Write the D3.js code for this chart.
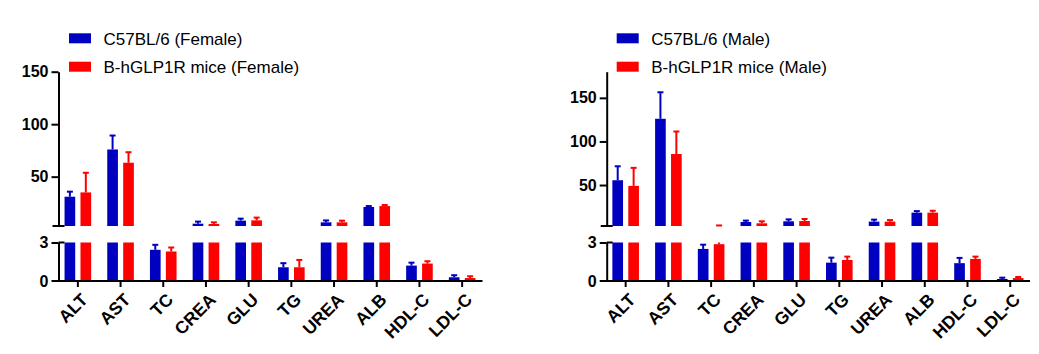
<!DOCTYPE html>
<html><head><meta charset="utf-8">
<script src="https://cdn.jsdelivr.net/npm/d3@7"></script>
<style>body{margin:0;background:#fff}svg{display:block}text{font-family:"Liberation Sans",Arial,sans-serif}</style>
</head><body>
<svg id="c" width="1039" height="354"></svg>
<script>
const categories = ["ALT","AST","TC","CREA","GLU","TG","UREA","ALB","HDL-C","LDL-C"];

const femaleWTMean = [30.9, 75.9, 2.43, 5.2, 8.1, 1.07, 6.5, 21.1, 1.2, 0.29];
const femaleWTSD   = [4.8, 13.3, 0.39, 2.0, 1.9, 0.32, 1.8, 0.9, 0.23, 0.16];
const femaleTgMean = [35.0, 63.3, 2.30, 4.9, 8.4, 1.07, 6.5, 22.0, 1.36, 0.23];
const femaleTgSD   = [18.7, 10.0, 0.31, 1.6, 2.6, 0.57, 1.6, 1.0, 0.18, 0.14];

const maleWTMean = [55.5, 126.0, 2.50, 7.6, 8.4, 1.43, 8.0, 18.3, 1.39, 0.16];
const maleWTSD   = [16.0, 30.4, 0.33, 1.6, 2.2, 0.39, 2.3, 1.8, 0.41, 0.10];
const maleTgMean = [49.0, 85.6, 2.87, 6.1, 8.7, 1.64, 8.0, 18.3, 1.72, 0.23];
const maleTgSD   = [20.7, 25.8, 0.75, 2.3, 2.3, 0.26, 1.8, 2.2, 0.18, 0.08];

const seriesFemale = ["C57BL/6 (Female)", "B-hGLP1R mice (Female)"];
const seriesMale = ["C57BL/6 (Male)", "B-hGLP1R mice (Male)"];
const colors = ["#0000c0", "#ff0000"];

const upperTicksFemale = [50, 100, 150];
const upperTicksMale = [50, 100, 150];
const lowerTicks = [0, 3];
const breakValue = 3;

const svg = d3.select("#c");

function panel(opt) {
  const g = svg.append("g");
  const ax = opt.axisX;
  const lower = d3.scaleLinear().domain([0, breakValue]).range([281, 242.5]);
  const upper = d3.scaleLinear().domain([breakValue, opt.upperMax]).range([226, 71.7]);
  const x = d3.scaleBand().domain(categories).range(opt.bandRange).padding(0);
  const x1 = d3.scaleBand().domain([0, 1]).range([-13.3, 13.3]).paddingInner(0.33);

  const data = [];
  opt.means.forEach((arr, s) => arr.forEach((m, i) => data.push({cat: categories[i], s, m, top: m + opt.sds[s][i]})));

  const bx = d => x(d.cat) + x.bandwidth() / 2 + x1(d.s);
  const cx = d => bx(d) + x1.bandwidth() / 2;

  g.selectAll(".lb").data(data).join("rect")
    .attr("x", bx).attr("width", x1.bandwidth())
    .attr("y", d => lower(Math.min(d.m, breakValue)))
    .attr("height", d => lower(0) - lower(Math.min(d.m, breakValue)))
    .attr("fill", d => colors[d.s]);
  g.selectAll(".ub").data(data.filter(d => d.m > breakValue)).join("rect")
    .attr("x", bx).attr("width", x1.bandwidth())
    .attr("y", d => upper(d.m))
    .attr("height", d => upper(breakValue) - upper(d.m))
    .attr("fill", d => colors[d.s]);

  const capW = 3;
  data.filter(d => d.m < breakValue).forEach(d => {
    const t = Math.min(d.top, breakValue);
    g.append("line").attr("x1", cx(d)).attr("x2", cx(d))
      .attr("y1", lower(d.m)).attr("y2", lower(t))
      .attr("stroke", colors[d.s]).attr("stroke-width", 2);
    if (d.top <= breakValue) {
      g.append("line").attr("x1", cx(d) - capW).attr("x2", cx(d) + capW)
        .attr("y1", lower(t)).attr("y2", lower(t))
        .attr("stroke", colors[d.s]).attr("stroke-width", 2);
    }
  });
  data.filter(d => d.top > breakValue).forEach(d => {
    const b = Math.max(d.m, breakValue);
    g.append("line").attr("x1", cx(d)).attr("x2", cx(d))
      .attr("y1", upper(b)).attr("y2", upper(d.top))
      .attr("stroke", colors[d.s]).attr("stroke-width", 2);
    g.append("line").attr("x1", cx(d) - capW).attr("x2", cx(d) + capW)
      .attr("y1", upper(d.top)).attr("y2", upper(d.top))
      .attr("stroke", colors[d.s]).attr("stroke-width", 2);
  });

  const ua = g.append("g").attr("transform", `translate(${ax},0)`)
    .call(d3.axisLeft(upper).tickValues(opt.upperTicks).tickFormat(d3.format("d")).tickSize(7).tickSizeOuter(0).tickPadding(3));
  const la = g.append("g").attr("transform", `translate(${ax},0)`)
    .call(d3.axisLeft(lower).tickValues(lowerTicks).tickFormat(d3.format("d")).tickSize(7).tickSizeOuter(0).tickPadding(3));
  [ua, la].forEach(a => {
    a.select(".domain").attr("stroke", "#000").attr("stroke-width", 2);
    a.selectAll(".tick line").attr("stroke", "#000").attr("stroke-width", 2);
    a.selectAll(".tick text").attr("fill", "#000").style("font-size", "16px").style("font-weight", "bold")
      .style("font-family", "'Liberation Sans', Arial, sans-serif");
  });
  la.selectAll(".tick").filter(d => d === 0).select("line").remove();
  g.append("line").attr("x1", ax - 6).attr("x2", ax + 6).attr("y1", upper(breakValue)).attr("y2", upper(breakValue))
    .attr("stroke", "#000").attr("stroke-width", 2);
  g.append("line").attr("x1", ax).attr("x2", ax + 6).attr("y1", lower(breakValue)).attr("y2", lower(breakValue))
    .attr("stroke", "#000").attr("stroke-width", 2);

  const xa = g.append("g").attr("transform", `translate(0,${lower(0)})`)
    .call(d3.axisBottom(x).tickSize(6).tickSizeOuter(0).tickFormat(""));
  xa.select(".domain").attr("d", `M${ax - 7},0H${opt.xEnd}`).attr("stroke", "#000").attr("stroke-width", 2);
  xa.selectAll(".tick line").attr("stroke", "#000").attr("stroke-width", 2);
  g.selectAll(".xl").data(categories).join("text")
    .attr("transform", d => `translate(${x(d) + x.bandwidth() / 2 + 2},${lower(0) + 11}) rotate(-45)`)
    .attr("text-anchor", "end").attr("dy", "0.72em")
    .style("font-size", "17.5px").style("font-weight", "bold").text(d => d);

  opt.series.forEach((s, i) => {
    g.append("rect").attr("x", opt.legX).attr("y", 33.3 + i * 28.4).attr("width", 22).attr("height", 10).attr("fill", colors[i]);
    g.append("text").attr("x", opt.legX + 34.5).attr("y", 44.5 + i * 28.4).style("font-size", "17px").text(s);
  });
}

panel({axisX: 58.5, upperMax: 150, upperTicks: upperTicksFemale, bandRange: [56.5, 483.5], xEnd: 482.5,
  means: [femaleWTMean, femaleTgMean], sds: [femaleWTSD, femaleTgSD], series: seriesFemale, legX: 69});
panel({axisX: 606.7, upperMax: 180, upperTicks: upperTicksMale, bandRange: [604.3, 1031.6], xEnd: 1030,
  means: [maleWTMean, maleTgMean], sds: [maleWTSD, maleTgSD], series: seriesMale, legX: 616.7});
</script>
</body></html>
